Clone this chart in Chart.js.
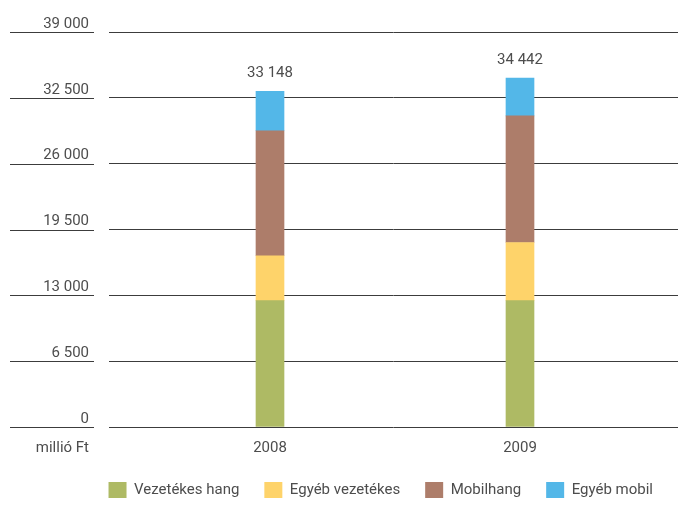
<!DOCTYPE html>
<html lang="hu">
<head>
    <meta charset="UTF-8">
    <title>Bevételek</title>
    <script src="https://cdn.jsdelivr.net/npm/chart.js"></script>
    <style>
        body { margin: 0; background: #fff; }
        #wrap { width: 678px; height: 505px; position: relative; }
    </style>
</head>
<body>
    <div id="wrap"><canvas id="chart"></canvas></div>

    <script>
        // évek és szegmensek (millió Ft)
        const years = [2008, 2009];
        const vezetekesHang = [12470, 12470];
        const egyebVezetekes = [4440, 5750];
        const mobilhang = [12340, 12505];
        const egyebMobil = [3898, 3717];
        const yTicks = [0, 6500, 13000, 19500, 26000, 32500, 39000];

        const FONT = "Roboto, 'Liberation Sans', sans-serif";
        const SIZE = 15;
        const TEXT = '#4d4d4d';
        const LINE = '#3c3c3c';

        // ezres tagolás szóközzel
        const fmt = v => String(v).replace(/\B(?=(\d{3})+(?!\d))/g, ' ');

        const series = [
            { label: 'Vezetékes hang', values: vezetekesHang, color: '#aeba64' },
            { label: 'Egyéb vezetékes', values: egyebVezetekes, color: '#fed36a' },
            { label: 'Mobilhang', values: mobilhang, color: '#ad7d6a' },
            { label: 'Egyéb mobil', values: egyebMobil, color: '#53b7e8' }
        ];

        // bal oldali rövid vonalak a tengelyfeliratok alatt + mértékegység
        const leftStubs = {
            id: 'leftStubs',
            afterDraw(chart) {
                const ctx = chart.ctx;
                const y = chart.scales.y;
                const x = chart.scales.x;
                ctx.save();
                ctx.strokeStyle = LINE;
                ctx.lineWidth = 1;
                yTicks.forEach(v => {
                    const py = Math.round(y.getPixelForValue(v)) + 0.5;
                    ctx.beginPath();
                    ctx.moveTo(10, py);
                    ctx.lineTo(94, py);
                    ctx.stroke();
                });
                ctx.fillStyle = TEXT;
                ctx.font = SIZE + 'px ' + FONT;
                ctx.textAlign = 'right';
                ctx.textBaseline = 'middle';
                ctx.fillText('millió Ft', 89, x.top + 21);
                ctx.restore();
            }
        };

        // összegek az oszlopok fölött
        const totals = {
            id: 'totals',
            afterDatasetsDraw(chart) {
                const ctx = chart.ctx;
                const top = chart.getDatasetMeta(series.length - 1);
                ctx.save();
                ctx.fillStyle = TEXT;
                ctx.font = SIZE + 'px ' + FONT;
                ctx.textAlign = 'center';
                ctx.textBaseline = 'middle';
                years.forEach((yr, i) => {
                    const sum = series.reduce((a, s) => a + s.values[i], 0);
                    const bar = top.data[i];
                    ctx.fillText(fmt(sum), bar.x, bar.y - 18);
                });
                ctx.restore();
            }
        };

        new Chart(document.getElementById('chart'), {
            type: 'bar',
            data: {
                datasets: series.map(s => ({
                    label: s.label,
                    data: years.map((yr, i) => ({ x: yr, y: s.values[i] })),
                    backgroundColor: s.color,
                    borderWidth: 0,
                    barThickness: 28
                }))
            },
            options: {
                responsive: true,
                maintainAspectRatio: false,
                animation: false,
                layout: { padding: { top: 32, right: 0, left: 0, bottom: -3 } },
                plugins: {
                    tooltip: { enabled: false },
                    legend: {
                        position: 'bottom',
                        align: 'end',
                        labels: {
                            boxWidth: 18,
                            boxHeight: 16,
                            padding: 25,
                            color: TEXT,
                            font: { family: FONT, size: SIZE }
                        }
                    }
                },
                scales: {
                    x: {
                        type: 'linear',
                        stacked: true,
                        offset: false,
                        min: 2007.356,
                        max: 2009.632,
                        grid: { display: false, drawTicks: false },
                        border: { display: false },
                        afterBuildTicks: s => { s.ticks = years.map(v => ({ value: v })); },
                        afterFit: s => { s.height = 30; },
                        ticks: {
                            padding: 12,
                            color: TEXT,
                            font: { family: FONT, size: SIZE },
                            callback: v => String(v)
                        }
                    },
                    y: {
                        stacked: true,
                        min: 0,
                        max: 39000,
                        afterBuildTicks: s => { s.ticks = yTicks.map(v => ({ value: v })); },
                        afterFit: s => { s.width = 109; },
                        grid: { color: LINE, lineWidth: 1, drawTicks: false },
                        border: { display: false },
                        ticks: {
                            padding: 20,
                            labelOffset: -8,
                            color: TEXT,
                            font: { family: FONT, size: SIZE },
                            callback: v => fmt(v)
                        }
                    }
                }
            },
            plugins: [leftStubs, totals]
        });
    </script>
</body>
</html>
